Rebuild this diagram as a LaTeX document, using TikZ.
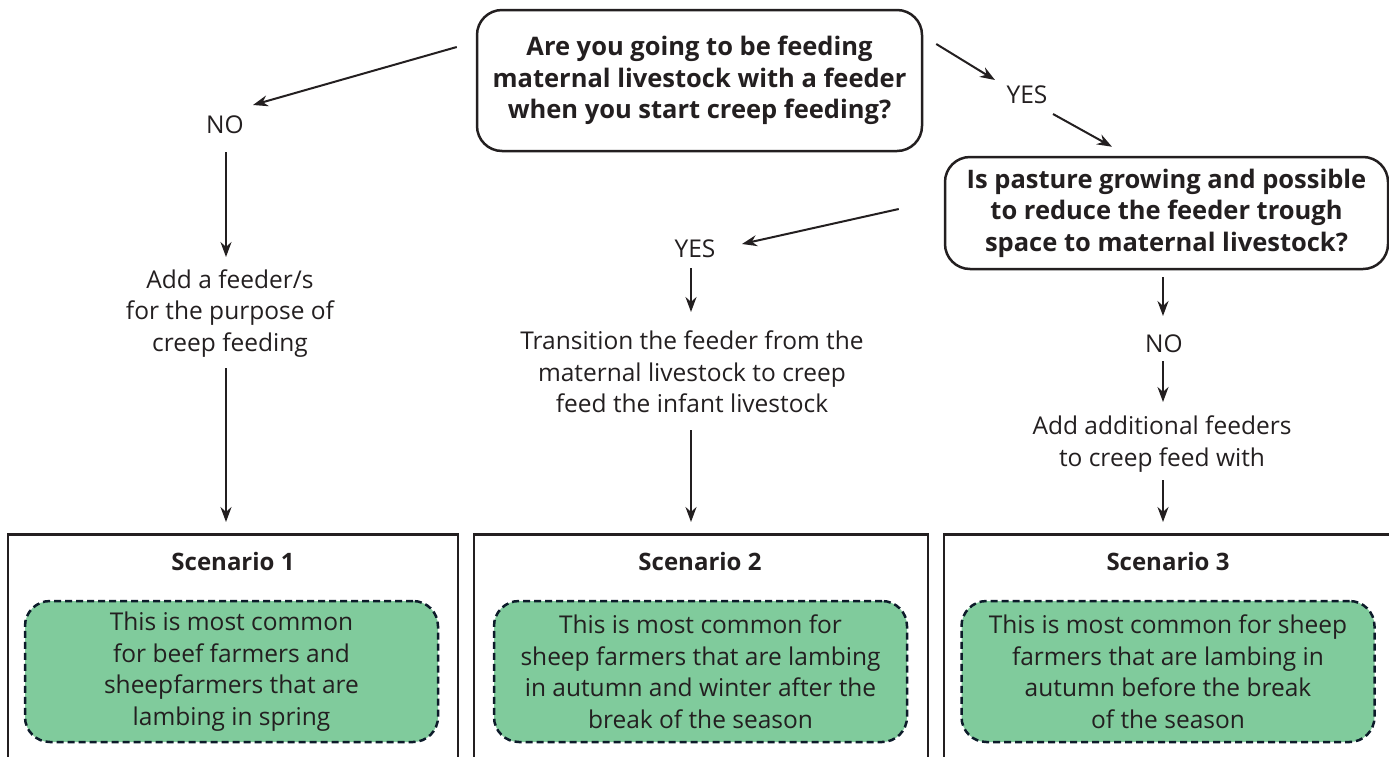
\documentclass[tikz,border=0pt]{standalone}
\usepackage{fontspec}
\setmainfont{Open Sans}
\usetikzlibrary{arrows.meta}
\definecolor{txt}{RGB}{35,31,32}
\definecolor{grn}{RGB}{128,203,156}
\definecolor{dsh}{RGB}{13,27,42}
\begin{document}
\begin{tikzpicture}[x=1pt,y=-1pt,
  question/.style={draw=txt, line width=2.5pt, rounded corners=25pt, align=center,
    font=\bfseries\fontsize{25.5}{31.5}\selectfont, text=txt},
  lbl/.style={align=center, font=\fontsize{24.5}{31.5}\selectfont, text=txt, inner sep=0pt},
  ttl/.style={align=center, font=\bfseries\fontsize{24}{31.5}\selectfont, text=txt, inner sep=0pt},
  scen/.style={draw=txt, line width=2.5pt, minimum height=260pt, anchor=north},
  greenbox/.style={fill=grn, draw=dsh, dash pattern=on 7pt off 4pt, line width=2.5pt,
    rounded corners=25pt, align=center, minimum width=413pt, minimum height=141pt,
    font=\fontsize{24.5}{31.5}\selectfont, text=txt},
  arr/.style={draw=txt, line width=2pt, -{Stealth[length=15pt,width=11pt]}}]
\useasboundingbox (0,0) rectangle (1389,756);
\clip (0,0) rectangle (1389,756);

% question boxes
\node[question, minimum width=445pt, minimum height=141pt] (q1) at (699.5,80.5)
  {Are you going to be feeding\\maternal livestock with a feeder\\when you start creep feeding?};
\node[question, minimum width=443pt, minimum height=112pt] (q2) at (1166.5,213)
  {Is pasture growing and possible\\to reduce the feeder trough\\space to maternal livestock?};

% labels
\node[lbl] (no1) at (225,125) {NO};
\node[lbl] (add1) at (230,313.5) {Add a feeder/s\\for the purpose of\\creep feeding};
\node[lbl] (yes1) at (1027,95) {YES};
\node[lbl] (yes2) at (695,249) {YES};
\node[lbl] (trans) at (692,372) {Transition the feeder from the\\maternal livestock to creep\\feed the infant livestock};
\node[lbl] (no2) at (1164,344) {NO};
\node[lbl] (add2) at (1162,444) {Add additional feeders\\to creep feed with};

% scenario boxes
\node[scen, minimum width=450pt] (s1) at (233,533) {};
\node[scen, minimum width=454pt] (s2) at (701,533) {};
\node[scen, minimum width=456pt] (s3) at (1172,533) {};
\node[ttl] (t1) at (233,561) {Scenario 1};
\node[ttl] (t2) at (700,561) {Scenario 2};
\node[ttl] (t3) at (1168,561) {Scenario 3};
\node[greenbox] (g1) at (231.5,671.5) {This is most common\\for beef farmers and\\sheepfarmers that are\\lambing in spring};
\node[greenbox] (g2) at (700.5,671.5) {This is most common for\\sheep farmers that are lambing\\in autumn and winter after the\\break of the season};
\node[greenbox] (g3) at (1168,671.5) {This is most common for sheep\\farmers that are lambing in\\autumn before the break\\of the season};

% connectors
\draw[arr] ([shift={(-19,-33.5)}]q1.west) -- ([shift={(28,-20)}]no1.center);
\draw[arr] ([shift={(1,27)}]no1.center) -- ([shift={(-4,-56.5)}]add1.center);
\draw[arr] ([shift={(-4,54.5)}]add1.center) -- ([shift={(-7,-11)}]s1.north);
\draw[arr] ([shift={(13,-36.5)}]q1.east) -- ([shift={(-32,-15)}]yes1.center);
\draw[arr] ([shift={(26,19)}]yes1.center) -- ([shift={(-54.5,-9)}]q2.north);
\draw[arr] ([shift={(-45,-4)}]q2.west) -- ([shift={(47,-5)}]yes2.center);
\draw[arr] ([shift={(-4,19)}]yes2.center) -- ([shift={(-1,-60)}]trans.center);
\draw[arr] ([shift={(-1,58)}]trans.center) -- ([shift={(-10,-11)}]s2.north);
\draw[arr] ([shift={(-3.5,7)}]q2.south) -- ([shift={(-1,-28)}]no2.center);
\draw[arr] ([shift={(-1,17)}]no2.center) -- ([shift={(1,-42)}]add2.center);
\draw[arr] ([shift={(1,36)}]add2.center) -- ([shift={(-9,-11)}]s3.north);
\end{tikzpicture}
\end{document}
